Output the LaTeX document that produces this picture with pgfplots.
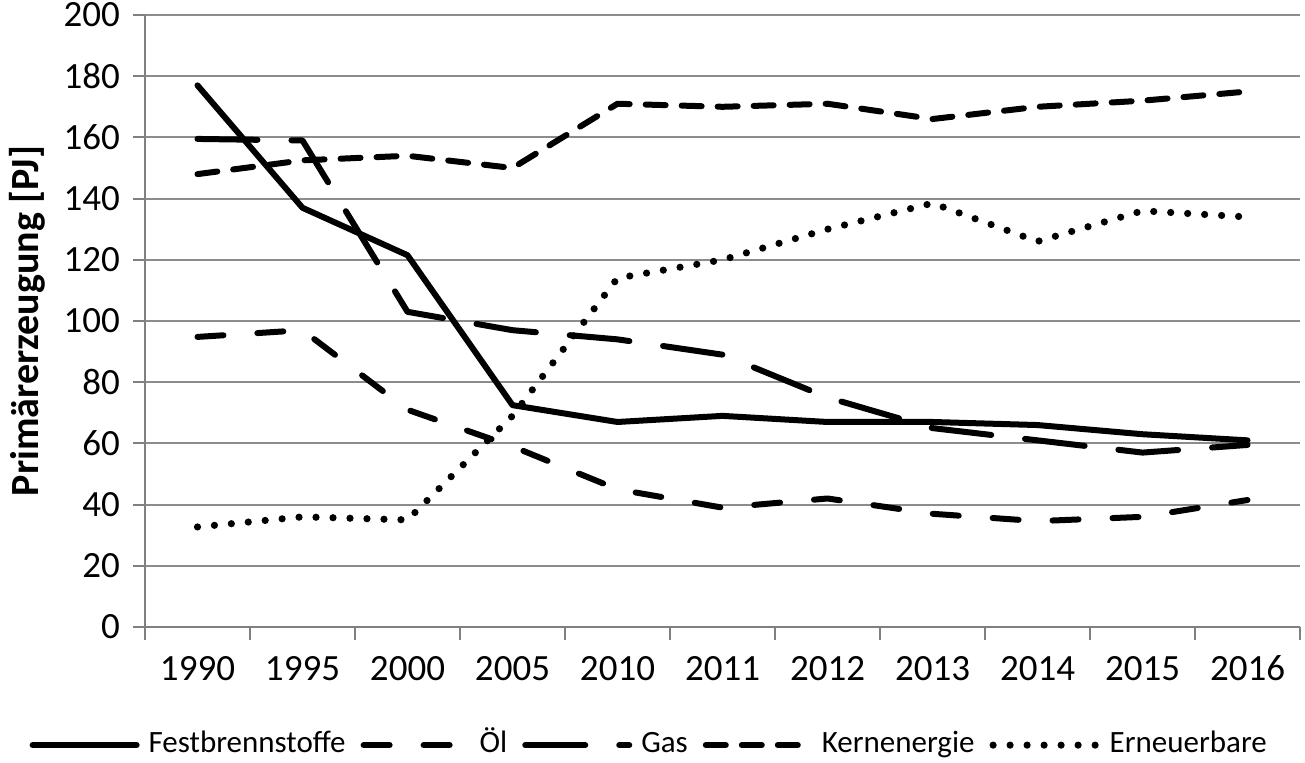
\documentclass[border=0pt]{standalone}
\usepackage{pgfplots}
\pgfplotsset{compat=1.18}
\usepackage{fontspec}
\setmainfont{Carlito}
\begin{document}
\begin{tikzpicture}
\begin{axis}[
  scale only axis, width=577.5pt, height=306pt,
  xmin=-0.5, xmax=10.5, ymin=0, ymax=200,
  axis x line=bottom, axis y line=left,
  axis line style={-, draw=gray, line width=1pt},
  ytick={0,20,...,200},
  xtick={0,...,10},
  xticklabels={1990,1995,2000,2005,2010,2011,2012,2013,2014,2015,2016},
  minor xtick={-0.5,0.5,...,10.5},
  major x tick style={draw=none},
  minor x tick style={draw=gray, line width=1pt},
  major y tick style={draw=gray, line width=1pt},
  tick align=outside,
  major tick length=6pt, minor tick length=6.5pt,
  ymajorgrids, grid style={draw=gray!90, line width=1pt},
  /pgf/number format/assume math mode=true,
  tick label style={font=\fontsize{18.5}{20}\selectfont},
  xticklabel style={anchor=north, text height=13pt, text depth=4pt, yshift=-4pt},
  yticklabel style={xshift=-3pt},
  ylabel={\bfseries Primärerzeugung [PJ]},
  ylabel style={font=\fontsize{20}{22}\selectfont, at={(axis description cs:-0.102,0.5)}, anchor=center, inner sep=0pt},
  legend style={at={(0.437,-0.193)}, anchor=center, draw=none, font=\fontsize{15.5}{17}\selectfont,
    legend columns=5, nodes={inner sep=1.5pt, text height=11pt, text depth=3.5pt},
    /tikz/every odd column/.append style={column sep=3pt},
    /tikz/every even column/.append style={column sep=6pt}},
  legend cell align=left,
  legend image code/.code={\draw[#1] (0pt,0pt) -- (52pt,0pt);},
  every axis plot/.append style={black, line width=3pt, line cap=round, line join=round},
]
\coordinate (bl) at (rel axis cs:0,0);
\coordinate (tr) at (rel axis cs:1,1);
\addplot[solid] coordinates {(0,177) (1,137) (2,121.5) (3,72.5) (4,67) (5,69) (6,67) (7,67) (8,66) (9,63) (10,61)};
\addlegendentry{Festbrennstoffe}
\addplot[dash pattern=on 13pt off 17pt] coordinates {(0,94.8) (1,97) (2,71) (3,59) (4,45) (5,39) (6,42) (7,37) (8,34.6) (9,36) (10,41.5)};
\addlegendentry{Öl}
\addplot[dash pattern=on 30pt off 17pt] coordinates {(0,159.5) (1,159) (2,103) (3,97) (4,94) (5,89) (6,75) (7,65) (8,61) (9,57) (10,59.5)};
\addlegendentry{Gas}
\addplot[dash pattern=on 10pt off 8pt] coordinates {(0,148) (1,152.5) (2,154) (3,150) (4,171) (5,170) (6,171) (7,166) (8,170) (9,172) (10,175)};
\addlegendentry{Kernenergie}
\addplot[line width=3.6pt, dash pattern=on 0pt off 8.5pt] coordinates {(0,32.7) (1,36) (2,35) (3,69) (4,114) (5,120) (6,130) (7,138.5) (8,126) (9,136) (10,134)};
\addlegendentry{Erneuerbare}
\end{axis}
\pgfresetboundingbox
\path ([xshift=-72.5pt,yshift=-67.5pt]bl) rectangle ([xshift=2.5pt,yshift=7.5pt]tr);
\end{tikzpicture}
\end{document}
